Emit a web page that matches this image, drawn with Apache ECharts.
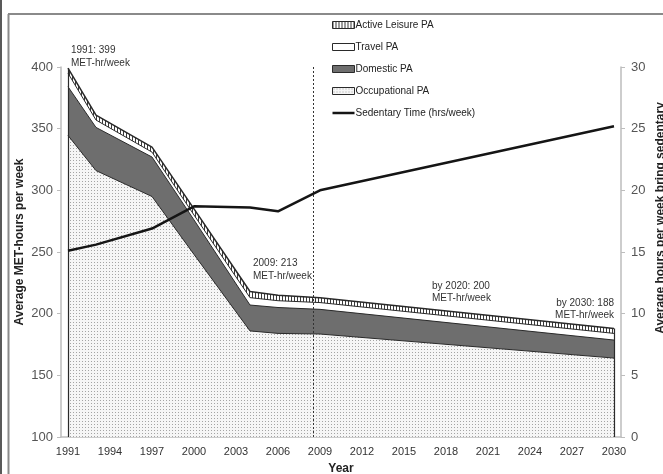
<!DOCTYPE html>
<html>
<head>
<meta charset="utf-8">
<script src="https://cdn.jsdelivr.net/npm/echarts@6/dist/echarts.min.js"></script>
<style>
  html, body { margin: 0; padding: 0; background: #fff; }
  #chart { width: 663px; height: 474px; }
</style>
</head>
<body>
<div id="chart"></div>
<script>
// Survey waves and the 2030 projection
const years = [1991, 1993, 1997, 2000, 2004, 2006, 2009, 2030];
// Physical activity components, MET-hours per week
const occupationalPA  = [344.5, 316, 295, 248, 186, 184, 183.5, 164];
const domesticPA      = [39.5, 35, 32, 28, 21, 21, 20, 14.6];
const travelPA        = [11, 6, 4, 4, 6, 5.5, 5.5, 5.4];
const activeLeisurePA = [4, 4, 4, 5, 5, 4.5, 4, 4];
// Sedentary time, hours per week (right axis)
const sedentaryHours  = [15.1, 15.6, 16.9, 18.7, 18.6, 18.3, 20.0, 25.2];
// Year tick labels
const yearTicks = [1991, 1994, 1997, 2000, 2003, 2006, 2009, 2012, 2015, 2018, 2021, 2024, 2027, 2030];
// Boundary between observed and projected years
const projectionStart = 2008.5;

// Cumulative tops of each band (occupational at the bottom, active leisure on top)
const cumOccupational = occupationalPA.slice();
const cumDomestic = cumOccupational.map((v, i) => v + domesticPA[i]);
const cumTravel = cumDomestic.map((v, i) => v + travelPA[i]);
const cumTotal = cumTravel.map((v, i) => v + activeLeisurePA[i]);
const pairs = arr => years.map((y, i) => [y, +arr[i].toFixed(2)]);

function pattern(w, h, bg, fg, cells) {
  const c = document.createElement('canvas');
  c.width = w; c.height = h;
  const g = c.getContext('2d');
  g.fillStyle = bg; g.fillRect(0, 0, w, h);
  g.fillStyle = fg;
  cells.forEach(([x, y, cw, ch]) => g.fillRect(x, y, cw, ch));
  return { image: c, repeat: 'repeat' };
}
const dots  = pattern(3, 3, '#f6f6f6', '#a4a4a4', [[1, 1, 1, 1]]);
const hatch = pattern(3, 3, '#ffffff', '#3a3a3a', [[0, 0, 1, 3]]);
const domesticGrey = '#6e6e6e';
const edge = '#2a2a2a';
const FONT = '"Liberation Sans", Arial, sans-serif';

const chart = echarts.init(document.getElementById('chart'), null, { renderer: 'canvas' });

// Each band is filled from the axis floor up to its cumulative top; later series paint over earlier ones
function bandSeries(name, cum, fill, width, z) {
  return {
    name, type: 'line', data: pairs(cum),
    symbol: 'none', silent: true,
    lineStyle: { color: edge, width: width || 1 },
    areaStyle: { color: fill, opacity: 1 },
    z: z
  };
}

const last = years.length - 1;
const occSeries = bandSeries('Occupational PA', cumOccupational, dots, 1, 4);
occSeries.markLine = {
  silent: true, symbol: 'none', label: { show: false },
  data: [
    [{ coord: [years[0], 100], lineStyle: { color: edge, width: 1.2, type: 'solid' } }, { coord: [years[0], cumTotal[0]] }],
    [{ coord: [years[last], 100], lineStyle: { color: edge, width: 1.2, type: 'solid' } }, { coord: [years[last], cumTotal[last]] }],
    { xAxis: projectionStart, lineStyle: { color: '#333', width: 1, type: [2, 2] } }
  ]
};

const annotations = [
  { x: 71,  y: 50,  text: '1991: 399', align: 'left' },
  { x: 71,  y: 63,  text: 'MET-hr/week', align: 'left' },
  { x: 253, y: 263, text: '2009: 213', align: 'left' },
  { x: 253, y: 276, text: 'MET-hr/week', align: 'left' },
  { x: 432, y: 286, text: 'by 2020: 200', align: 'left' },
  { x: 432, y: 298, text: 'MET-hr/week', align: 'left' },
  { x: 614, y: 303, text: 'by 2030: 188', align: 'right' },
  { x: 614, y: 315, text: 'MET-hr/week', align: 'right' }
];

chart.setOption({
  animation: false,
  backgroundColor: '#fff',
  textStyle: { fontFamily: FONT },
  grid: { left: 61, right: 42, top: 67, bottom: 37 },
  legend: {
    orient: 'vertical', left: 332, top: 20, padding: 0,
    itemWidth: 22, itemHeight: 7, itemGap: 12,
    selectedMode: false,
    textStyle: { fontSize: 10, color: '#222', fontFamily: FONT, padding: [0, 0, 0, -4] },
    data: [
      { name: 'Active Leisure PA', icon: 'rect', itemStyle: { color: hatch, borderColor: edge, borderWidth: 1 } },
      { name: 'Travel PA', icon: 'rect', itemStyle: { color: '#fff', borderColor: edge, borderWidth: 1 } },
      { name: 'Domestic PA', icon: 'rect', itemStyle: { color: domesticGrey, borderColor: edge, borderWidth: 1 } },
      { name: 'Occupational PA', icon: 'rect', itemStyle: { color: dots, borderColor: edge, borderWidth: 1 } },
      { name: 'Sedentary Time (hrs/week)', icon: 'path://M0,0H22V2.5H0Z', itemStyle: { color: '#151515', borderWidth: 0 } }
    ]
  },
  xAxis: {
    type: 'value', min: 1990.5, max: 2030.5,
    splitLine: { show: false },
    axisLine: { show: true, lineStyle: { color: '#bdbdbd', width: 1.5 } },
    axisTick: { show: true, inside: true, length: 3, customValues: yearTicks, lineStyle: { color: '#bdbdbd' } },
    axisLabel: { customValues: yearTicks, formatter: v => String(v), fontSize: 11, color: '#333', margin: 9, fontFamily: FONT }
  },
  yAxis: [
    {
      type: 'value', min: 100, max: 400, interval: 50,
      splitLine: { show: false },
      axisLine: { show: true, lineStyle: { color: '#bdbdbd', width: 1.5 } },
      axisTick: { show: true, length: 4, lineStyle: { color: '#bdbdbd' } },
      axisLabel: { fontSize: 13, color: '#555', margin: 8, fontFamily: FONT }
    },
    {
      type: 'value', min: 0, max: 30, interval: 5, position: 'right',
      splitLine: { show: false },
      axisLine: { show: true, lineStyle: { color: '#bdbdbd', width: 1.5 } },
      axisTick: { show: true, length: 4, lineStyle: { color: '#bdbdbd' } },
      axisLabel: { fontSize: 13, color: '#555', margin: 10, fontFamily: FONT }
    }
  ],
  series: [
    bandSeries('Active Leisure PA', cumTotal, hatch, 1.5, 1),
    bandSeries('Travel PA', cumTravel, '#ffffff', 1, 2),
    bandSeries('Domestic PA', cumDomestic, domesticGrey, 1, 3),
    occSeries,
    {
      name: 'Sedentary Time (hrs/week)', type: 'line', yAxisIndex: 1,
      data: pairs(sedentaryHours), symbol: 'none', silent: true,
      lineStyle: { color: '#151515', width: 2.5 },
      itemStyle: { color: '#151515' },
      z: 6
    }
  ],
  graphic: [
    { type: 'line', silent: true, shape: { x1: 1, y1: 0, x2: 1, y2: 474 }, style: { stroke: '#222', lineWidth: 1.5 } },
    { type: 'line', silent: true, shape: { x1: 8.5, y1: 14, x2: 8.5, y2: 474 }, style: { stroke: '#8a8a8a', lineWidth: 2 } },
    { type: 'line', silent: true, shape: { x1: 8, y1: 14, x2: 663, y2: 14 }, style: { stroke: '#8a8a8a', lineWidth: 2 } },
    { type: 'text', silent: true, x: 20, y: 242, rotation: Math.PI / 2,
      style: { text: 'Average MET-hours per week', font: 'bold 12px ' + FONT, fill: '#222', align: 'center', verticalAlign: 'middle' } },
    { type: 'text', silent: true, x: 661, y: 218, rotation: Math.PI / 2,
      style: { text: 'Average hours per week bring sedentary', font: 'bold 12px ' + FONT, fill: '#222', align: 'center', verticalAlign: 'middle' } },
    { type: 'text', silent: true, x: 341, y: 469,
      style: { text: 'Year', font: 'bold 12px ' + FONT, fill: '#222', align: 'center', verticalAlign: 'middle' } }
  ].concat(annotations.map(a => ({
    type: 'text', silent: true, x: a.x, y: a.y, z: 10,
    style: { text: a.text, font: '10px ' + FONT, fill: '#333', align: a.align, verticalAlign: 'middle' }
  })))
});
</script>
</body>
</html>
